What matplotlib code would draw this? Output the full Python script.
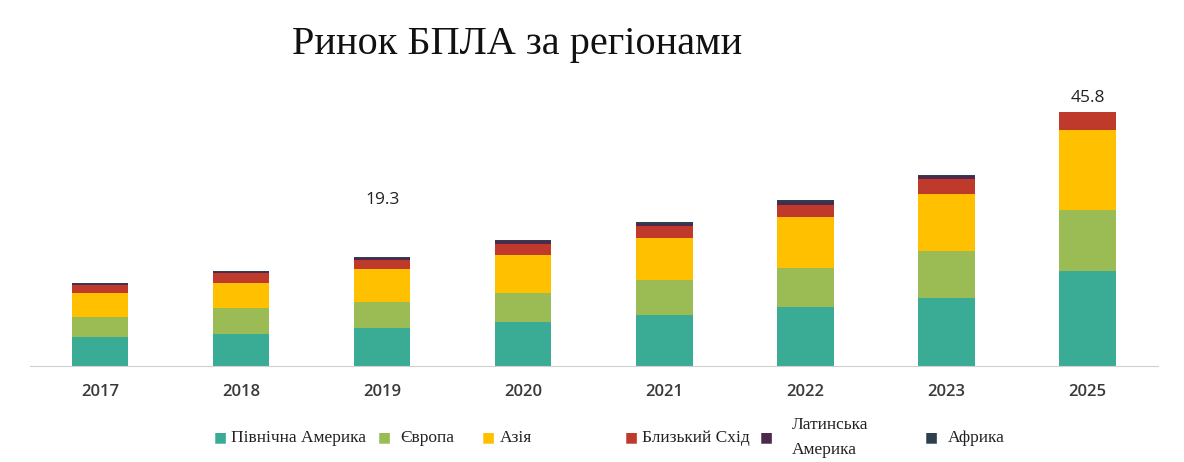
import matplotlib.pyplot as plt
import numpy as np

years = ["2017", "2018", "2019", "2020", "2021", "2022", "2023", "2025"]
north_america = [5.2, 5.8, 6.9, 8.0, 9.2, 10.6, 12.2, 17.1]
europe = [3.6, 4.6, 4.6, 5.1, 6.25, 7.1, 8.5, 11.0]
asia = [4.3, 4.5, 5.9, 6.9, 7.55, 9.1, 10.3, 14.4]
middle_east = [1.5, 1.8, 1.7, 2.0, 2.2, 2.3, 2.8, 3.35]
latin_america = [0.25, 0.25, 0.35, 0.45, 0.45, 0.45, 0.4, 0.0]
africa = [0.15, 0.15, 0.25, 0.35, 0.35, 0.35, 0.3, 0.0]

series = [
    ("Північна Америка", north_america, "#3aab95"),
    ("Європа", europe, "#9bbb55"),
    ("Азія", asia, "#ffc000"),
    ("Близький Схід", middle_east, "#bf3a2b"),
    ("Латинська\nАмерика", latin_america, "#4d2a4d"),
    ("Африка", africa, "#2e3f4f"),
]

# value labels shown in the picture: (bar index, text, y in data units)
value_labels = [(2, "19.3", 30.0), (7, "45.8", 48.3)]

fig = plt.figure(figsize=(11.84, 4.62), dpi=100)
ax = fig.add_axes([0.025, 0.208, 0.953, 0.60])

x = np.arange(len(years))
bottom = np.zeros(len(years))
for name, vals, color in series:
    ax.bar(x, vals, bottom=bottom, width=0.4, color=color, edgecolor="none")
    bottom += np.array(vals)

for i, txt, yv in value_labels:
    ax.text(x[i], yv, txt, ha="center", va="center", fontsize=12.5,
            family=["Open Sans", "DejaVu Sans"], color="#222222")

ax.set_xlim(-0.5, len(years) - 0.5)
ax.set_ylim(0, 50)
ax.set_xticks(x)
ax.set_xticklabels(years, fontsize=12, fontweight="semibold", color="#3a3a3a",
                   family=["Open Sans", "DejaVu Sans"])
ax.tick_params(axis="x", length=0, pad=13)
ax.set_yticks([])
for s in ["top", "right", "left"]:
    ax.spines[s].set_visible(False)
ax.spines["bottom"].set_color("#d0d0d0")

fig.text(0.437, 0.903, "Ринок БПЛА за регіонами", ha="center", va="center",
         fontsize=29, family=["Liberation Serif", "DejaVu Serif"], color="#111111")

# legend, placed by hand like in the source picture
leg_y = 1 - 437 / 462
legend_pos = [(220, 231), (384, 400), (488, 500), (631, 642), (766, 792), (931, 948)]
for (name, vals, color), (mx, tx) in zip(series, legend_pos):
    fig.text(mx / 1184, leg_y, "■", ha="center", va="center", fontsize=10,
             color=color, family=["DejaVu Sans"])
    fig.text(tx / 1184, leg_y - 0.002, name,
             ha="left", va="center", fontsize=12.5, linespacing=1.75,
             family=["Liberation Serif", "DejaVu Serif"], color="#222222")

fig.savefig("out.png", dpi=100, facecolor="white")
